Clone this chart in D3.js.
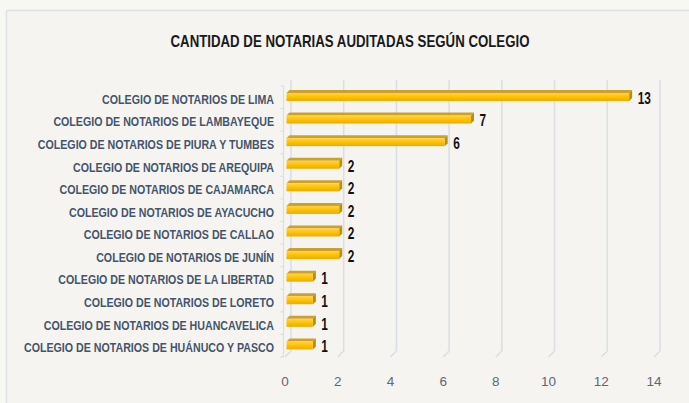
<!DOCTYPE html>
<html>
<head>
<meta charset="utf-8">
<script src="https://cdn.jsdelivr.net/npm/d3@7"></script>
<style>
  html, body { margin: 0; padding: 0; background: #f7f8f2; }
  svg { display: block; }
</style>
</head>
<body>
<svg id="chart" width="689" height="403"></svg>
<script>
const title = "CANTIDAD DE NOTARIAS AUDITADAS SEGÚN COLEGIO";
const categories = [
  "COLEGIO DE NOTARIOS DE LIMA",
  "COLEGIO DE NOTARIOS DE LAMBAYEQUE",
  "COLEGIO DE NOTARIOS DE PIURA Y TUMBES",
  "COLEGIO DE NOTARIOS DE AREQUIPA",
  "COLEGIO DE NOTARIOS DE CAJAMARCA",
  "COLEGIO DE NOTARIOS DE AYACUCHO",
  "COLEGIO DE NOTARIOS DE CALLAO",
  "COLEGIO DE NOTARIOS DE JUNÍN",
  "COLEGIO DE NOTARIOS DE LA LIBERTAD",
  "COLEGIO DE NOTARIOS DE LORETO",
  "COLEGIO DE NOTARIOS DE HUANCAVELICA",
  "COLEGIO DE NOTARIOS DE HUÁNUCO Y PASCO"
];
const values = [13, 7, 6, 2, 2, 2, 2, 2, 1, 1, 1, 1];
const tickValues = [0, 2, 4, 6, 8, 10, 12, 14];

const svg = d3.select("#chart");
const W = 689, H = 403;
const narrow = "'Liberation Sans Narrow', 'Liberation Sans', Arial, sans-serif";

// outer background + panel
svg.append("rect").attr("x", 0).attr("y", 0).attr("width", W).attr("height", H).attr("fill", "#f7f8f2");
svg.append("rect").attr("x", 6.5).attr("y", 10.5).attr("width", W).attr("height", H)
  .attr("fill", "#f5f4f0").attr("stroke", "#dde2ea").attr("stroke-width", 1.5);

// gradients
const defs = svg.append("defs");
const gFront = defs.append("linearGradient").attr("id", "gFront").attr("x1", 0).attr("y1", 0).attr("x2", 0).attr("y2", 1);
gFront.append("stop").attr("offset", "0%").attr("stop-color", "#ffd24a");
gFront.append("stop").attr("offset", "45%").attr("stop-color", "#ffc400");
gFront.append("stop").attr("offset", "100%").attr("stop-color", "#e8ad00");

// scales
const x = d3.scaleLinear().domain([0, 14]).range([285, 654]);
const y = d3.scaleBand().domain(categories).range([86, 357]);
const dX = 6, dY = 6; // depth of the 3D box

// back wall gridlines + floor diagonals
const grid = svg.append("g");
tickValues.forEach(t => {
  const xf = x(t), xb = x(t) + dX;
  grid.append("path")
    .attr("d", `M${xb},${y.range()[0] - dY} L${xb},${y.range()[1] - dY} L${xf},${y.range()[1]}`)
    .attr("fill", "none").attr("stroke", "#d9dee7").attr("stroke-width", 1.5);
});

// left axis (front plane) with small ticks
const axisG = svg.append("g");
axisG.append("line").attr("x1", x(0) - 1.5).attr("x2", x(0) - 1.5)
  .attr("y1", y.range()[0]).attr("y2", y.range()[1])
  .attr("stroke", "#d9dee7").attr("stroke-width", 1.2);
categories.concat([null]).forEach((c, i) => {
  const yy = c ? y(c) : y.range()[1];
  axisG.append("line").attr("x1", x(0) - 4.5).attr("x2", x(0) - 1.5)
    .attr("y1", yy).attr("y2", yy).attr("stroke", "#d9dee7").attr("stroke-width", 1.2);
});

// bars (3D)
const bars = svg.append("g");
const bOff = 1.5, bD = 3;
categories.forEach((c, i) => {
  const yc = y(c) + y.bandwidth() / 2;
  const x0 = x(0) + bOff, x1 = x(values[i]) + bOff;
  const yt = yc - 4.3, yb = yc + 3.7;
  bars.append("path")
    .attr("d", `M${x0},${yt} L${x0 + bD},${yt - bD} L${x1 + bD},${yt - bD} L${x1},${yt} Z`)
    .attr("fill", "#caa030");
  bars.append("path")
    .attr("d", `M${x1},${yt} L${x1 + bD},${yt - bD} L${x1 + bD},${yb - bD} L${x1},${yb} Z`)
    .attr("fill", "#b98f12");
  bars.append("rect").attr("x", x0).attr("y", yt).attr("width", x1 - x0).attr("height", yb - yt)
    .attr("fill", "url(#gFront)");
  const s = String(values[i]);
  bars.append("text")
    .attr("x", x(values[i]) + 10).attr("y", yc + 6.5)
    .attr("font-family", narrow).attr("font-weight", "bold").attr("font-size", 17)
    .attr("textLength", s.length * 6.6).attr("lengthAdjust", "spacingAndGlyphs")
    .attr("fill", "#111").text(s);
});

// category labels
const labG = svg.append("g");
const labs = labG.selectAll("text").data(categories).join("text")
  .attr("x", 274).attr("y", d => y(d) + y.bandwidth() / 2 + 6.5)
  .attr("text-anchor", "end")
  .attr("font-family", narrow).attr("font-weight", "bold").attr("font-size", 13.5)
  .attr("fill", "#44546a")
  .text(d => d);
let maxW = 0;
labs.each(function () { maxW = Math.max(maxW, this.getComputedTextLength()); });
const k = 250 / maxW;
labs.each(function () {
  const w = this.getComputedTextLength();
  d3.select(this).attr("textLength", w * k).attr("lengthAdjust", "spacingAndGlyphs");
});

// x tick labels
svg.append("g").selectAll("text").data(tickValues).join("text")
  .attr("x", d => x(d)).attr("y", 386)
  .attr("text-anchor", "middle")
  .attr("font-family", "'Liberation Sans', Arial, sans-serif").attr("font-size", 13.5)
  .attr("fill", "#5d6778")
  .text(d => d);

// title
svg.append("text")
  .attr("x", 350).attr("y", 47)
  .attr("text-anchor", "middle")
  .attr("font-family", narrow).attr("font-weight", "bold").attr("font-size", 17)
  .attr("fill", "#1a1a1a")
  .attr("textLength", 359).attr("lengthAdjust", "spacingAndGlyphs")
  .text(title);
</script>
</body>
</html>
